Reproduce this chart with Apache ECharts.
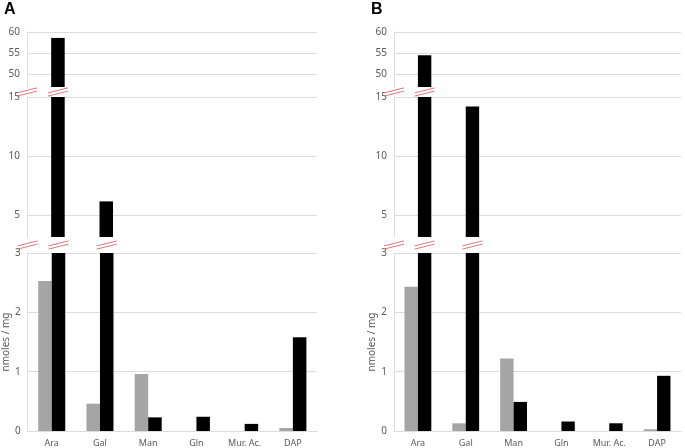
<!DOCTYPE html>
<html>
<head>
<meta charset="utf-8" />
<title>nmoles / mg</title>
<style type="text/css">
html,body{margin:0;padding:0;background:#fff}
#chart{width:685px;height:448px}
</style>
<script src="https://cdn.jsdelivr.net/npm/echarts@6.0.0/dist/echarts.min.js"></script>
</head>
<body>
<div id="chart"></div>
<script type="text/javascript">
// data
var categories = ['Ara', 'Gal', 'Man', 'Gln', 'Mur. Ac.', 'DAP'];
var grayA  = [2.53, 0.46, 0.96, 0, 0, 0.05];
var blackA = [58.6, 6.2, 0.23, 0.24, 0.12, 1.58];
var grayB  = [2.43, 0.13, 1.22, 0, 0, 0.03];
var blackB = [54.5, 14.2, 0.49, 0.16, 0.13, 0.93];

// broken y axis: bottom, middle, top pieces
var segMin = [0, 3.2, 47];
var segMax = [3, 15, 60];
var segTicks = [[0, 1, 2, 3], [5, 10, 15], [50, 55, 60]];

var panelNames = ['A', 'B'];
var panelLeft = [27, 394];
var panelWidth = [290, 287];
var segTop = [253, 97, 32];
var segHeight = [178, 140, 55];

var gray = '#a5a5a5', black = '#000000', gridCol = '#dcdcdc', txt = '#595959';
var breakCol = '#d9777a';
var font = 'Noto Sans';

var chart = echarts.init(document.getElementById('chart'));

var grids = [], xAxes = [], yAxes = [], series = [];

// slash marks at the breaks, drawn just above the grid top
function breakItem(params, api) {
    var band = api.size([1, 0])[0];
    var base = api.coord([api.value(0), api.value(1)]);
    var kind = api.value(2);
    var cx;
    if (kind < 0) {
        cx = base[0] - band * (api.value(0) + 0.5);
    } else {
        cx = base[0] + (kind === 0 ? -1 : 1) * band * 0.14;
    }
    var cy = base[1] - api.value(3);
    function slash(dy) {
        return {
            type: 'line',
            shape: { x1: cx - 10, y1: cy + dy + 2.5, x2: cx + 10, y2: cy + dy - 2.5 },
            style: { stroke: breakCol, lineWidth: 1 }
        };
    }
    return { type: 'group', children: [slash(-1.6), slash(1.6)] };
}

function breakData(gv, bv, s, gap) {
    var d = [[0, segMax[s], -1, gap]];
    for (var i = 0; i < categories.length; i++) {
        if (gv[i] > segMax[s]) d.push([i, segMax[s], 0, gap]);
        if (bv[i] > segMax[s]) d.push([i, segMax[s], 1, gap]);
    }
    return d;
}

for (var p = 0; p < 2; p++) {
    var gv = p === 0 ? grayA : grayB;
    var bv = p === 0 ? blackA : blackB;
    for (var s = 0; s < 3; s++) {
        var idx = p * 3 + s;
        grids.push({
            left: panelLeft[p], width: panelWidth[p],
            top: segTop[s], height: segHeight[s]
        });
        xAxes.push({
            type: 'category', gridIndex: idx, data: categories,
            show: s === 0,
            axisLine: { show: true, lineStyle: { color: gridCol } },
            axisTick: { show: false },
            axisLabel: { color: txt, fontSize: 9, fontFamily: font, margin: 8 }
        });
        yAxes.push({
            type: 'value', gridIndex: idx,
            min: segMin[s], max: segMax[s],
            name: s === 0 ? 'nmoles / mg' : '',
            nameLocation: 'middle', nameGap: 14,
            nameTextStyle: { color: txt, fontSize: 10, fontFamily: font },
            axisLine: { show: true, lineStyle: { color: gridCol } },
            axisTick: { show: false, customValues: segTicks[s] },
            axisLabel: { color: txt, fontSize: 10, fontFamily: font, margin: 7, customValues: segTicks[s] },
            splitLine: { show: true, lineStyle: { color: gridCol } }
        });
        series.push({
            type: 'bar', xAxisIndex: idx, yAxisIndex: idx, data: gv,
            barWidth: '28%', barGap: '0%', clip: true,
            itemStyle: { color: gray }, silent: true
        });
        series.push({
            type: 'bar', xAxisIndex: idx, yAxisIndex: idx, data: bv,
            barWidth: '28%', barGap: '0%', clip: true,
            itemStyle: { color: black }, silent: true
        });
        if (s < 2) {
            series.push({
                type: 'custom', xAxisIndex: idx, yAxisIndex: idx,
                data: breakData(gv, bv, s, s === 0 ? 8 : 5),
                renderItem: breakItem, clip: false, silent: true, z: 5
            });
        }
    }
}

chart.setOption({
    animation: false,
    grid: grids,
    xAxis: xAxes,
    yAxis: yAxes,
    series: series,
    graphic: [
        { type: 'text', left: 4, top: 2, style: { text: panelNames[0], font: 'bold 16px Liberation Sans', fill: '#000' } },
        { type: 'text', left: 371, top: 2, style: { text: panelNames[1], font: 'bold 16px Liberation Sans', fill: '#000' } }
    ]
});
</script>
</body>
</html>
